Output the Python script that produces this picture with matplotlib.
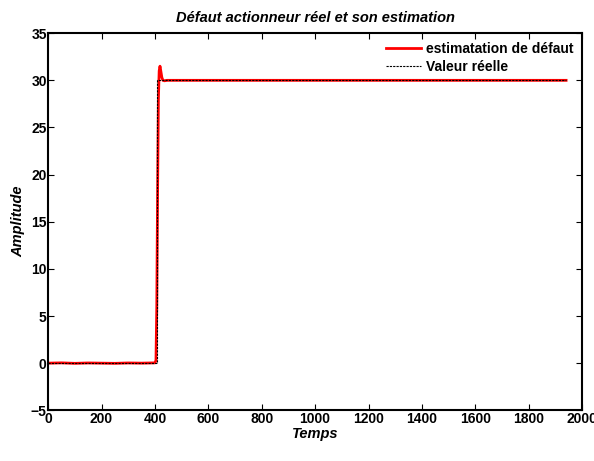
import matplotlib.pyplot as plt

# estimated actuator fault (red) and real value (black dashed)
t_est = [0, 50, 100, 150, 200, 250, 300, 350, 400, 404, 407, 410, 413, 416, 419, 422, 426, 430, 436, 445, 1000, 1940]
est = [0.0, 0.03, -0.02, 0.02, 0.0, -0.02, 0.02, 0.0, 0.03, 0.3, 6.0, 18.0, 28.0, 31.0, 31.5, 31.0, 30.3, 30.0, 29.95, 30.0, 30.0, 30.0]

t_real = [0, 408, 408, 1940]
real = [0, 0, 30, 30]

plt.rcParams['font.family'] = ['Liberation Sans', 'DejaVu Sans']
plt.rcParams['font.weight'] = 'bold'

fig = plt.figure(figsize=(5.94, 4.61), dpi=100)
ax = fig.add_axes([0.081, 0.11, 0.899, 0.818])

ax.plot(t_est, est, color='red', linewidth=2, label='estimatation de défaut')
ax.plot(t_real, real, color='black', linestyle='--', linewidth=0.8, dashes=(2, 1), label='Valeur réelle')

ax.set_xlim(0, 2000)
ax.set_ylim(-5, 35)
ax.set_xticks(range(0, 2001, 200))
ax.set_yticks(range(-5, 36, 5))
ax.tick_params(direction='in', top=True, right=True, labelsize=10, length=4, pad=1)
for s in ax.spines.values():
    s.set_linewidth(1.5)

ax.set_title('Défaut actionneur réel et son estimation', fontsize=10.5, fontstyle='italic', fontweight='bold', pad=8)
ax.set_xlabel('Temps', fontsize=10.5, fontstyle='italic', fontweight='bold', labelpad=1)
ax.set_ylabel('Amplitude', fontsize=10.5, fontstyle='italic', fontweight='bold', labelpad=4)

leg = ax.legend(loc='upper right', frameon=False, fontsize=10, handlelength=2.5,
                borderaxespad=0.2, labelspacing=0.3, handletextpad=0.4)

fig.savefig('out.png', dpi=100)
